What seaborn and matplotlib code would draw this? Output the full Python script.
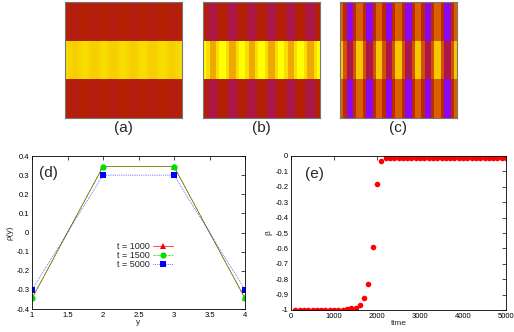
"""Three density maps on top, density profile and order parameter below."""
import numpy as np
import pandas as pd
import matplotlib
matplotlib.use("Agg")
import matplotlib.pyplot as plt
import seaborn as sns

# top maps: value per column (6 columns per stripe period); outer rows are identical
map_a_outer = [0.50, 0.495, 0.49, 0.49, 0.495, 0.50, 0.50, 0.495, 0.49, 0.49, 0.495, 0.50,
               0.50, 0.495, 0.49, 0.49, 0.495, 0.50, 0.50, 0.495, 0.49, 0.49, 0.495, 0.50,
               0.50, 0.495, 0.49, 0.49, 0.495, 0.50, 0.50, 0.495, 0.49, 0.49, 0.495, 0.50]
map_a_mid = [0.95, 0.94, 0.93, 0.93, 0.94, 0.95, 0.95, 0.94, 0.93, 0.93, 0.94, 0.95,
             0.95, 0.94, 0.93, 0.93, 0.94, 0.95, 0.95, 0.94, 0.93, 0.93, 0.94, 0.95,
             0.95, 0.94, 0.93, 0.93, 0.94, 0.95, 0.95, 0.94, 0.93, 0.93, 0.94, 0.95]
map_b_outer = [0.50, 0.48, 0.45, 0.45, 0.48, 0.50, 0.50, 0.48, 0.45, 0.45, 0.48, 0.50,
               0.50, 0.48, 0.45, 0.45, 0.48, 0.50, 0.50, 0.48, 0.45, 0.45, 0.48, 0.50,
               0.50, 0.48, 0.45, 0.45, 0.48, 0.50, 0.50, 0.48, 0.45, 0.45, 0.48, 0.50]
map_b_mid = [1.00, 0.95, 0.87, 0.87, 0.95, 1.00, 1.00, 0.95, 0.87, 0.87, 0.95, 1.00,
             1.00, 0.95, 0.87, 0.87, 0.95, 1.00, 1.00, 0.95, 0.87, 0.87, 0.95, 1.00,
             1.00, 0.95, 0.87, 0.87, 0.95, 1.00, 1.00, 0.95, 0.87, 0.87, 0.95, 1.00]
map_c_outer = [0.72, 0.55, 0.30, 0.30, 0.55, 0.72, 0.72, 0.55, 0.30, 0.30, 0.55, 0.72,
               0.72, 0.55, 0.30, 0.30, 0.55, 0.72, 0.72, 0.55, 0.30, 0.30, 0.55, 0.72,
               0.72, 0.55, 0.30, 0.30, 0.55, 0.72, 0.72, 0.55, 0.30, 0.30, 0.55, 0.72]
map_c_mid = [0.92, 0.68, 0.45, 0.45, 0.68, 0.92, 0.92, 0.68, 0.45, 0.45, 0.68, 0.92,
             0.92, 0.68, 0.45, 0.45, 0.68, 0.92, 0.92, 0.68, 0.45, 0.45, 0.68, 0.92,
             0.92, 0.68, 0.45, 0.45, 0.68, 0.92, 0.92, 0.68, 0.45, 0.45, 0.68, 0.92]
map_labels = ["(a)", "(b)", "(c)"]

# (d) density profile across the lanes
lane_y = [1, 2, 3, 4]
rho_t1000 = [-0.345, 0.345, 0.345, -0.345]
rho_t1500 = [-0.345, 0.345, 0.345, -0.345]
rho_t5000 = [-0.30, 0.30, 0.30, -0.30]

# (e) order parameter vs time
time = [100, 200, 300, 400, 500, 600, 700, 800, 900, 1000,
        1100, 1200, 1300, 1400, 1500, 1600, 1700, 1800, 1900, 2000,
        2100, 2200, 2300, 2400, 2500, 2600, 2700, 2800, 2900, 3000,
        3100, 3200, 3300, 3400, 3500, 3600, 3700, 3800, 3900, 4000,
        4100, 4200, 4300, 4400, 4500, 4600, 4700, 4800, 4900, 5000]
beta = [-1.0, -1.0, -1.0, -1.0, -1.0, -1.0, -1.0, -1.0, -1.0, -1.0,
        -1.0, -0.998, -0.995, -0.99, -0.985, -0.965, -0.925, -0.83, -0.59, -0.185,
        -0.03, -0.01, -0.01, -0.01, -0.01, -0.01, -0.01, -0.01, -0.01, -0.01,
        -0.01, -0.01, -0.01, -0.01, -0.01, -0.01, -0.01, -0.01, -0.01, -0.01,
        -0.01, -0.01, -0.01, -0.01, -0.01, -0.01, -0.01, -0.01, -0.01, -0.01]

sns.set_theme(style="white")
plt.rcParams["font.family"] = ["Liberation Sans", "DejaVu Sans"]

W, H = 514, 332
fig = plt.figure(figsize=(W / 100, H / 100), dpi=100)


def px_axes(x0, y0, x1, y1):
    return fig.add_axes([x0 / W, 1 - y1 / H, (x1 - x0) / W, (y1 - y0) / H])


maps = [(map_a_outer, map_a_mid), (map_b_outer, map_b_mid), (map_c_outer, map_c_mid)]
for i, ((outer, mid), lab) in enumerate(zip(maps, map_labels)):
    x0 = [65, 203, 340][i]
    ax = px_axes(x0, 2, x0 + 117, 118)
    grid = pd.DataFrame([outer, mid, outer])
    sns.heatmap(grid, cmap="gnuplot", vmin=0, vmax=1, cbar=False,
                xticklabels=False, yticklabels=False, ax=ax)
    for s in ax.spines.values():
        s.set_visible(True)
        s.set_color("#777777")
        s.set_linewidth(0.8)
    fig.text((x0 + 58.5) / W, 1 - 128 / H, lab, ha="center", va="center", fontsize=11)


def gp_style(ax):
    ax.tick_params(direction="in", top=True, right=True, length=3, width=0.5,
                   labelsize=5.5, pad=2, colors="black")
    for s in ax.spines.values():
        s.set_visible(True)
        s.set_color("black")
        s.set_linewidth(0.6)


# (d)
axd = px_axes(32, 156, 245, 309)
sns.lineplot(x=lane_y, y=rho_t1000, ax=axd, color="red", marker="^", markersize=4,
             linewidth=0.5, markeredgewidth=0, label="t = 1000")
sns.lineplot(x=lane_y, y=rho_t1500, ax=axd, color="#00e000", marker="o", markersize=4.5,
             linewidth=0.5, markeredgewidth=0, linestyle="--", label="t = 1500")
sns.lineplot(x=lane_y, y=rho_t5000, ax=axd, color="blue", marker="s", markersize=4.5,
             linewidth=0.5, markeredgewidth=0, linestyle=":", label="t = 5000")
axd.set_xlim(1, 4)
axd.set_ylim(-0.4, 0.4)
axd.set_xticks([1, 1.5, 2, 2.5, 3, 3.5, 4])
axd.set_xticklabels(["1", "1.5", "2", "2.5", "3", "3.5", "4"])
axd.set_yticks(np.round(np.arange(-0.4, 0.41, 0.1), 1))
axd.set_yticklabels(["-0.4", "-0.3", "-0.2", "-0.1", "0", "0.1", "0.2", "0.3", "0.4"])
axd.set_xlabel("y", fontsize=6, labelpad=0)
axd.set_ylabel("ρ(y)", fontsize=6, labelpad=2)
gp_style(axd)
axd.text(1.1, 0.29, "(d)", fontsize=11)
axd.legend(loc="center", bbox_to_anchor=(0.53, 0.35), frameon=False, markerfirst=False,
           fontsize=6.5, handlelength=2.2, handletextpad=0.3, labelspacing=0.0,
           borderpad=0)

# (e)
axe = px_axes(291, 156, 506, 310)
sns.scatterplot(x=time, y=beta, ax=axe, color="red", s=16, linewidth=0)
axe.set_xlim(0, 5000)
axe.set_ylim(-1, 0)
axe.set_xticks([0, 1000, 2000, 3000, 4000, 5000])
axe.set_yticks(np.round(np.arange(-1, 0.01, 0.1), 1))
axe.set_yticklabels(["-1", "-0.9", "-0.8", "-0.7", "-0.6", "-0.5", "-0.4",
                     "-0.3", "-0.2", "-0.1", "0"])
axe.set_xlabel("time", fontsize=6, labelpad=0)
axe.set_ylabel("β", fontsize=6, labelpad=2)
gp_style(axe)
axe.text(330, -0.14, "(e)", fontsize=11)

fig.savefig("out.png", dpi=100, facecolor="white")
